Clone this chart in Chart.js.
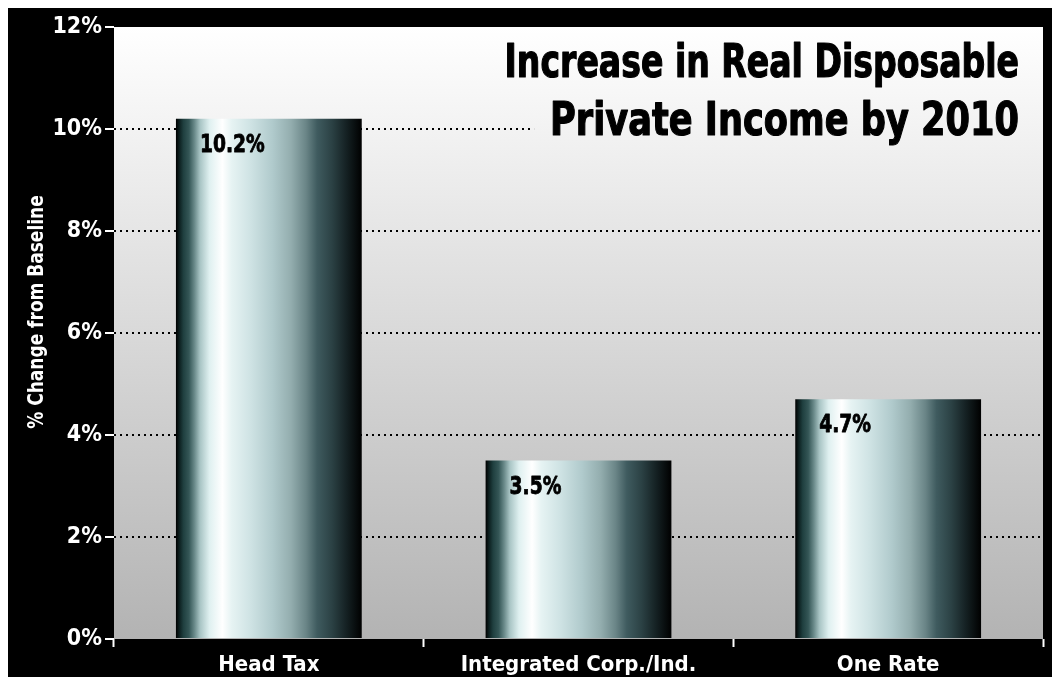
<!DOCTYPE html>
<html>
<head>
<meta charset="utf-8">
<script src="https://cdn.jsdelivr.net/npm/chart.js@4.4.1/dist/chart.umd.min.js"></script>
<style>
  html, body { margin: 0; padding: 0; background: #fff; }
  #wrap { position: absolute; left: 8px; top: 8px; width: 1044px; height: 669px; background: #000; }
</style>
</head>
<body>
<div id="wrap"><canvas id="chart" width="1044" height="669"></canvas></div>
<script>
// ── Data ──────────────────────────────────────────────────
const categories = ['Head Tax', 'Integrated Corp./Ind.', 'One Rate'];
const changePct  = [10.2, 3.5, 4.7];
const yTicks     = [0, 2, 4, 6, 8, 10, 12];
const titleLines = ['Increase in Real Disposable', 'Private Income by 2010'];
const yTitle     = '% Change from Baseline';

const FONT = "'Liberation Sans Narrow', 'DejaVu Sans Condensed', 'Arial Narrow', sans-serif";

// metallic cylinder look, left to right across each bar
const BAR_STOPS = [
  [0.00, '#000000'], [0.02, '#0e2222'], [0.04, '#1f3f3f'], [0.07, '#345656'],
  [0.10, '#6a8a8a'], [0.13, '#a8c4c4'], [0.18, '#dff0f0'], [0.25, '#ffffff'],
  [0.30, '#e6f3f3'], [0.40, '#cfe3e4'], [0.52, '#b0cacc'], [0.62, '#93adae'],
  [0.70, '#6a8587'], [0.76, '#3f5b5f'], [0.84, '#2b4144'], [0.92, '#142022'],
  [1.00, '#000000']
];

function plotGradient(ctx, area) {
  const g = ctx.createLinearGradient(0, area.top, 0, area.bottom);
  g.addColorStop(0, '#ffffff');
  g.addColorStop(1, '#b3b3b3');
  return g;
}

function barFill(c) {
  const chart = c.chart;
  if (!chart.chartArea) return '#a8c4c4';
  const xs = chart.scales.x;
  const cx = xs.getPixelForValue(c.dataIndex);
  const w  = xs.width / categories.length * 0.6;
  const g  = chart.ctx.createLinearGradient(cx - w / 2, 0, cx + w / 2, 0);
  BAR_STOPS.forEach(([p, col]) => g.addColorStop(p, col));
  return g;
}

// draw text squeezed horizontally and a touch heavier (the headline face is narrow and black)
function squeezed(ctx, text, x, y, sx, heavy) {
  ctx.save();
  ctx.translate(x, y);
  ctx.scale(sx, 1);
  ctx.fillText(text, 0, 0);
  if (heavy) {
    ctx.strokeStyle = ctx.fillStyle;
    ctx.lineWidth = heavy;
    ctx.lineJoin = 'round';
    ctx.strokeText(text, 0, 0);
  }
  ctx.restore();
}

// ── Plugins ───────────────────────────────────────────────
const backdrop = {
  id: 'backdrop',
  beforeDraw(chart) {
    const { ctx, chartArea: a } = chart;
    ctx.save();
    ctx.fillStyle = '#000';
    ctx.fillRect(0, 0, chart.width, chart.height);
    ctx.fillStyle = plotGradient(ctx, a);
    ctx.fillRect(a.left, a.top, a.right - a.left, a.bottom - a.top);
    ctx.restore();
  }
};

const titleBox = {
  id: 'titleBox',
  beforeDatasetsDraw(chart) {
    const { ctx, chartArea: a } = chart;
    const right = 1011;
    const baselines = [69, 127];
    const squeeze = [0.80, 0.85];
    ctx.save();
    ctx.font = `bold 46px ${FONT}`;
    ctx.textAlign = 'right';
    ctx.textBaseline = 'alphabetic';
    titleLines.forEach((line, i) => {
      const w = ctx.measureText(line).width * squeeze[i];
      // clear the grid behind the text
      ctx.fillStyle = plotGradient(ctx, a);
      ctx.fillRect(right - w - 16, baselines[i] - 40, a.right - (right - w - 16), 52);
      ctx.fillStyle = '#000';
      squeezed(ctx, line, right, baselines[i], squeeze[i], 1.2);
    });
    ctx.restore();
  }
};

const valueLabels = {
  id: 'valueLabels',
  afterDatasetsDraw(chart) {
    const { ctx } = chart;
    const meta = chart.getDatasetMeta(0);
    ctx.save();
    ctx.font = `bold 25px ${FONT}`;
    ctx.fillStyle = '#000';
    ctx.textAlign = 'left';
    ctx.textBaseline = 'alphabetic';
    meta.data.forEach((bar, i) => {
      squeezed(ctx, changePct[i].toFixed(1) + '%', bar.x - bar.width / 2 + 24, bar.y + 33, 0.83, 0.8);
    });
    ctx.restore();
  }
};

const axisTitle = {
  id: 'axisTitle',
  afterDraw(chart) {
    const { ctx } = chart;
    ctx.save();
    ctx.translate(29, 304);
    ctx.rotate(-Math.PI / 2);
    ctx.font = `bold 22px ${FONT}`;
    ctx.fillStyle = '#fff';
    ctx.textAlign = 'center';
    ctx.textBaseline = 'middle';
    squeezed(ctx, yTitle, 0, 0, 0.86);
    ctx.restore();
  }
};

// ── Chart ─────────────────────────────────────────────────
new Chart(document.getElementById('chart'), {
  type: 'bar',
  data: {
    labels: categories,
    datasets: [{
      data: changePct,
      backgroundColor: barFill,
      borderWidth: 0,
      barPercentage: 0.6,
      categoryPercentage: 1
    }]
  },
  options: {
    responsive: false,
    animation: false,
    devicePixelRatio: 1,
    layout: { padding: { top: 19, right: 9, left: 0, bottom: 0 } },
    plugins: { legend: { display: false }, tooltip: { enabled: false } },
    scales: {
      x: {
        border: { display: false },
        grid: {
          drawOnChartArea: false,
          tickLength: 8,
          tickColor: '#fff',
          tickWidth: 2
        },
        ticks: { color: '#fff', font: { family: FONT, size: 22, weight: 'bold' }, padding: 5 },
        afterFit(s) { s.height = 38; }
      },
      y: {
        min: 0,
        max: 12,
        afterBuildTicks(s) { s.ticks = yTicks.map(v => ({ value: v })); },
        border: { display: false, dash: [2, 4] },
        grid: {
          color: c => (c.tick && (c.tick.value === 0 || c.tick.value === 12)) ? 'rgba(0,0,0,0)' : '#000',
          lineWidth: 2,
          tickLength: 9,
          tickColor: '#fff',
          tickWidth: 2,
          tickBorderDash: []
        },
        ticks: {
          color: '#fff',
          font: { family: FONT, size: 23, weight: 'bold' },
          padding: 3,
          callback: v => v + '%'
        },
        afterFit(s) { s.width = 106; }
      }
    }
  },
  plugins: [backdrop, titleBox, valueLabels, axisTitle]
});
</script>
</body>
</html>
